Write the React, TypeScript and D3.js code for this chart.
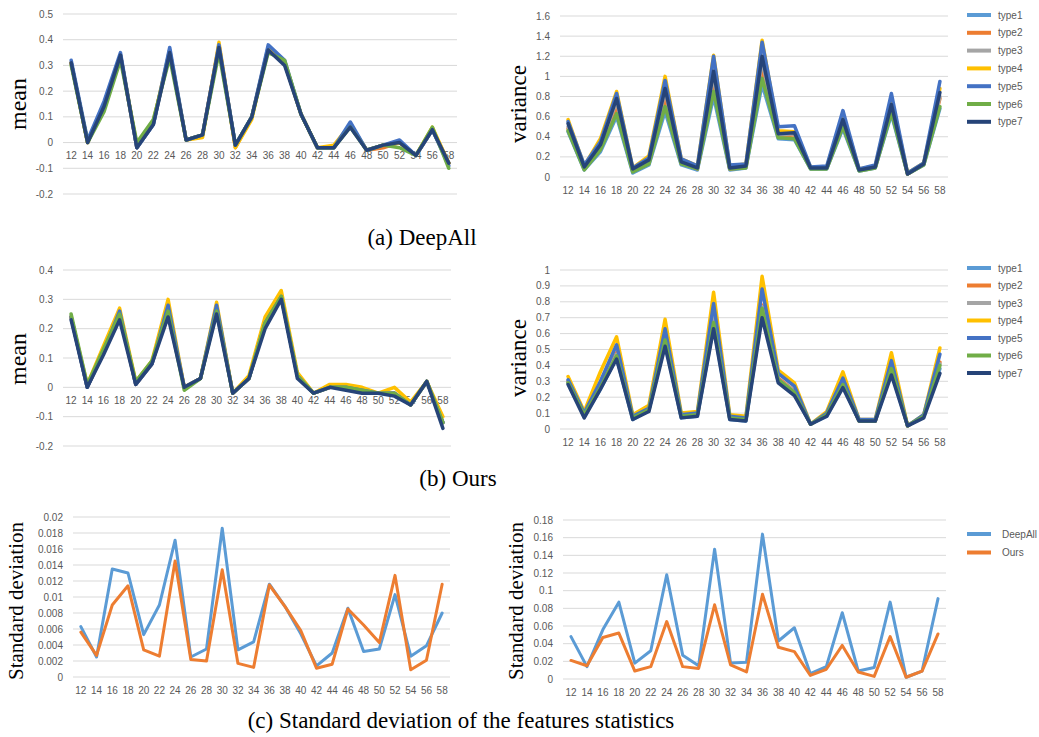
import React from 'react'
import * as d3 from 'd3'

// layer indices on the x axis
const layers = ['12', '14', '16', '18', '20', '22', '24', '26', '28', '30', '32', '34', '36', '38', '40', '42', '44', '46', '48', '50', '52', '54', '56', '58']

const typeNames = ['type1', 'type2', 'type3', 'type4', 'type5', 'type6', 'type7']
const typeColors = ['#5B9BD5', '#ED7D31', '#A5A5A5', '#FFC000', '#4472C4', '#70AD47', '#264478']

// (a) DeepAll - mean
const deepMean1 = [0.31, 0.00, 0.15, 0.34, -0.02, 0.07, 0.36, 0.01, 0.03, 0.37, -0.01, 0.10, 0.37, 0.31, 0.11, -0.02, -0.02, 0.07, -0.03, -0.01, 0.00, -0.05, 0.05, -0.08]
const deepMean2 = [0.31, 0.00, 0.14, 0.34, -0.02, 0.08, 0.35, 0.01, 0.03, 0.38, -0.02, 0.10, 0.37, 0.31, 0.11, -0.02, -0.02, 0.07, -0.03, -0.02, 0.00, -0.05, 0.05, -0.08]
const deepMean3 = [0.31, 0.00, 0.14, 0.34, -0.02, 0.07, 0.35, 0.01, 0.03, 0.37, -0.01, 0.10, 0.36, 0.31, 0.11, -0.02, -0.02, 0.07, -0.03, -0.01, 0.00, -0.05, 0.05, -0.08]
const deepMean4 = [0.31, 0.00, 0.14, 0.34, -0.01, 0.08, 0.36, 0.01, 0.02, 0.39, -0.02, 0.09, 0.37, 0.31, 0.11, -0.02, -0.01, 0.07, -0.03, -0.01, 0.00, -0.05, 0.06, -0.08]
const deepMean5 = [0.32, 0.01, 0.16, 0.35, -0.02, 0.07, 0.37, 0.01, 0.03, 0.38, -0.01, 0.10, 0.38, 0.32, 0.11, -0.02, -0.02, 0.08, -0.03, -0.01, 0.01, -0.05, 0.05, -0.09]
const deepMean6 = [0.30, 0.00, 0.12, 0.32, 0.00, 0.09, 0.33, 0.01, 0.03, 0.35, -0.01, 0.10, 0.35, 0.32, 0.11, -0.02, -0.02, 0.06, -0.03, -0.01, -0.02, -0.05, 0.06, -0.10]
const deepMean7 = [0.31, 0.00, 0.14, 0.34, -0.02, 0.07, 0.35, 0.01, 0.03, 0.37, -0.01, 0.10, 0.36, 0.30, 0.11, -0.02, -0.02, 0.06, -0.03, -0.01, 0.00, -0.05, 0.05, -0.08]

// (a) DeepAll - variance
const deepVar1 = [0.45, 0.07, 0.25, 0.60, 0.04, 0.12, 0.65, 0.12, 0.07, 0.80, 0.07, 0.09, 0.92, 0.38, 0.37, 0.08, 0.08, 0.48, 0.06, 0.09, 0.62, 0.03, 0.12, 0.68]
const deepVar2 = [0.48, 0.09, 0.28, 0.70, 0.06, 0.14, 0.78, 0.14, 0.08, 0.95, 0.08, 0.10, 1.08, 0.40, 0.42, 0.09, 0.09, 0.52, 0.07, 0.10, 0.68, 0.03, 0.13, 0.78]
const deepVar3 = [0.50, 0.10, 0.32, 0.75, 0.07, 0.16, 0.85, 0.15, 0.09, 1.00, 0.09, 0.11, 1.15, 0.42, 0.43, 0.09, 0.09, 0.55, 0.07, 0.10, 0.70, 0.03, 0.13, 0.80]
const deepVar4 = [0.57, 0.11, 0.38, 0.85, 0.09, 0.21, 1.00, 0.18, 0.11, 1.21, 0.11, 0.13, 1.36, 0.46, 0.45, 0.10, 0.10, 0.62, 0.08, 0.11, 0.78, 0.04, 0.14, 0.88]
const deepVar5 = [0.55, 0.12, 0.35, 0.83, 0.09, 0.19, 0.96, 0.18, 0.11, 1.20, 0.12, 0.13, 1.34, 0.50, 0.51, 0.10, 0.11, 0.66, 0.08, 0.12, 0.83, 0.04, 0.14, 0.95]
const deepVar6 = [0.46, 0.07, 0.27, 0.63, 0.05, 0.13, 0.70, 0.13, 0.08, 0.85, 0.08, 0.09, 0.98, 0.39, 0.38, 0.08, 0.08, 0.50, 0.06, 0.09, 0.64, 0.03, 0.12, 0.70]
const deepVar7 = [0.53, 0.10, 0.32, 0.78, 0.08, 0.17, 0.88, 0.15, 0.09, 1.05, 0.09, 0.11, 1.20, 0.43, 0.44, 0.09, 0.09, 0.57, 0.07, 0.10, 0.72, 0.03, 0.13, 0.84]

// (b) Ours - mean
const oursMean1 = [0.24, 0.00, 0.12, 0.25, 0.01, 0.08, 0.26, 0.00, 0.03, 0.27, -0.02, 0.03, 0.22, 0.31, 0.04, -0.02, 0.00, 0.00, -0.01, -0.02, -0.02, -0.06, 0.02, -0.12]
const oursMean2 = [0.24, 0.00, 0.12, 0.25, 0.01, 0.08, 0.27, 0.00, 0.03, 0.27, -0.02, 0.03, 0.22, 0.31, 0.04, -0.02, 0.00, 0.00, -0.01, -0.02, -0.02, -0.06, 0.02, -0.12]
const oursMean3 = [0.24, 0.00, 0.12, 0.25, 0.01, 0.08, 0.26, 0.00, 0.03, 0.27, -0.02, 0.03, 0.22, 0.31, 0.04, -0.02, 0.00, 0.00, -0.01, -0.02, -0.02, -0.06, 0.02, -0.12]
const oursMean4 = [0.24, 0.01, 0.14, 0.27, 0.02, 0.09, 0.30, 0.00, 0.03, 0.29, -0.02, 0.04, 0.24, 0.33, 0.05, -0.02, 0.01, 0.01, 0.00, -0.02, 0.00, -0.05, 0.02, -0.10]
const oursMean5 = [0.24, 0.00, 0.12, 0.26, 0.01, 0.08, 0.28, 0.00, 0.03, 0.28, -0.02, 0.03, 0.22, 0.31, 0.04, -0.02, 0.00, 0.00, -0.01, -0.02, -0.02, -0.06, 0.02, -0.12]
const oursMean6 = [0.25, 0.01, 0.13, 0.25, 0.02, 0.09, 0.26, -0.01, 0.03, 0.26, -0.02, 0.03, 0.22, 0.31, 0.04, -0.02, 0.00, 0.00, -0.01, -0.02, -0.02, -0.06, 0.02, -0.12]
const oursMean7 = [0.23, 0.00, 0.11, 0.23, 0.01, 0.08, 0.24, 0.00, 0.03, 0.25, -0.02, 0.03, 0.20, 0.30, 0.03, -0.02, 0.00, -0.01, -0.02, -0.02, -0.03, -0.06, 0.02, -0.14]

// (b) Ours - variance
const oursVar1 = [0.29, 0.08, 0.25, 0.45, 0.06, 0.12, 0.54, 0.07, 0.08, 0.65, 0.06, 0.05, 0.73, 0.30, 0.22, 0.03, 0.08, 0.27, 0.05, 0.05, 0.36, 0.02, 0.08, 0.38]
const oursVar2 = [0.30, 0.09, 0.27, 0.48, 0.07, 0.13, 0.58, 0.08, 0.09, 0.72, 0.07, 0.06, 0.78, 0.32, 0.24, 0.03, 0.09, 0.29, 0.05, 0.05, 0.40, 0.02, 0.08, 0.42]
const oursVar3 = [0.30, 0.09, 0.27, 0.47, 0.07, 0.12, 0.57, 0.08, 0.09, 0.70, 0.07, 0.06, 0.77, 0.31, 0.24, 0.03, 0.09, 0.29, 0.05, 0.05, 0.39, 0.02, 0.08, 0.41]
const oursVar4 = [0.33, 0.11, 0.36, 0.58, 0.09, 0.15, 0.69, 0.10, 0.11, 0.86, 0.09, 0.08, 0.96, 0.37, 0.29, 0.03, 0.11, 0.36, 0.06, 0.06, 0.48, 0.02, 0.09, 0.51]
const oursVar5 = [0.31, 0.10, 0.30, 0.53, 0.08, 0.13, 0.63, 0.09, 0.10, 0.79, 0.08, 0.07, 0.88, 0.35, 0.27, 0.03, 0.10, 0.32, 0.06, 0.06, 0.43, 0.02, 0.09, 0.47]
const oursVar6 = [0.29, 0.09, 0.26, 0.46, 0.07, 0.12, 0.56, 0.08, 0.09, 0.67, 0.07, 0.06, 0.76, 0.31, 0.23, 0.03, 0.09, 0.28, 0.05, 0.05, 0.38, 0.02, 0.08, 0.40]
const oursVar7 = [0.28, 0.07, 0.25, 0.44, 0.06, 0.11, 0.52, 0.07, 0.08, 0.63, 0.06, 0.05, 0.70, 0.29, 0.21, 0.03, 0.08, 0.26, 0.05, 0.05, 0.34, 0.02, 0.07, 0.35]

// (c) standard deviation of the statistics
const stdMeanDeepAll = [0.0063, 0.0025, 0.0135, 0.013, 0.0053, 0.009, 0.0171, 0.0025, 0.0035, 0.0186, 0.0034, 0.0044, 0.0116, 0.0088, 0.0054, 0.0014, 0.003, 0.0086, 0.0032, 0.0035, 0.0103, 0.0026, 0.0039, 0.008]
const stdMeanOurs = [0.0056, 0.0027, 0.009, 0.0114, 0.0034, 0.0026, 0.0145, 0.0022, 0.002, 0.0134, 0.0017, 0.0012, 0.0115, 0.0088, 0.0058, 0.0011, 0.0016, 0.0085, 0.0065, 0.0043, 0.0127, 0.0009, 0.0021, 0.0116]
const stdVarDeepAll = [0.048, 0.014, 0.056, 0.087, 0.018, 0.032, 0.118, 0.027, 0.015, 0.147, 0.018, 0.019, 0.164, 0.043, 0.058, 0.006, 0.014, 0.075, 0.009, 0.013, 0.087, 0.002, 0.009, 0.091]
const stdVarOurs = [0.021, 0.015, 0.047, 0.052, 0.009, 0.014, 0.065, 0.014, 0.012, 0.084, 0.016, 0.008, 0.096, 0.036, 0.031, 0.004, 0.011, 0.038, 0.008, 0.003, 0.048, 0.002, 0.009, 0.051]

const stdNames = ['DeepAll', 'Ours']
const stdColors = ['#5B9BD5', '#ED7D31']

// y tick values
const meanTicksA = [-0.2, -0.1, 0, 0.1, 0.2, 0.3, 0.4, 0.5]
const varTicksA = [0, 0.2, 0.4, 0.6, 0.8, 1, 1.2, 1.4, 1.6]
const meanTicksB = [-0.2, -0.1, 0, 0.1, 0.2, 0.3, 0.4]
const varTicksB = [0, 0.1, 0.2, 0.3, 0.4, 0.5, 0.6, 0.7, 0.8, 0.9, 1]
const stdTicksMean = [0, 0.002, 0.004, 0.006, 0.008, 0.01, 0.012, 0.014, 0.016, 0.018, 0.02]
const stdTicksVar = [0, 0.02, 0.04, 0.06, 0.08, 0.1, 0.12, 0.14, 0.16, 0.18]

const tickFont = '"Liberation Sans", Arial, sans-serif'
const serif = '"Liberation Serif", "Times New Roman", serif'

type Series = { name: string, color: string, values: number[] }

type PanelProps = {
  x0: number, x1: number,
  yTop: number, yBottom: number,
  ticks: number[], digits: number,
  series: Series[],
  lineWidth: number,
  ylabel: string, ylabelX: number, ylabelY: number, ylabelSize: number,
  legend?: { x: number, y: number, gap: number, textX: number }
}

function LinePanel(p: PanelProps) {
  const x = d3.scalePoint<string>().domain(layers).range([p.x0, p.x1]).padding(0.5)
  const y = d3.scaleLinear()
    .domain([d3.min(p.ticks)!, d3.max(p.ticks)!])
    .range([p.yBottom, p.yTop])
  const line = d3.line<number>()
    .x((_, i) => x(layers[i])!)
    .y(d => y(d))
  const fmt = (v: number) => String(+v.toFixed(p.digits))

  return (
    <g>
      {p.ticks.map(t => (
        <g key={t}>
          <line x1={p.x0} x2={p.x1} y1={y(t)} y2={y(t)} stroke="#d9d9d9" strokeWidth={1} />
          <text x={p.x0 - 10} y={y(t)} textAnchor="end" dominantBaseline="central"
            fontFamily={tickFont} fontSize={10} fill="#595959">{fmt(t)}</text>
        </g>
      ))}
      {layers.map(l => (
        <text key={l} x={x(l)} y={y(0) + 13} textAnchor="middle" dominantBaseline="central"
          fontFamily={tickFont} fontSize={10} fill="#595959">{l}</text>
      ))}
      {p.series.map(s => (
        <path key={s.name} d={line(s.values)!} fill="none" stroke={s.color}
          strokeWidth={p.lineWidth} strokeLinejoin="round" strokeLinecap="round" />
      ))}
      <text transform={`translate(${p.ylabelX},${p.ylabelY}) rotate(-90)`} textAnchor="middle"
        dominantBaseline="central" fontFamily={serif} fontSize={p.ylabelSize} fill="#000">{p.ylabel}</text>
      {p.legend && p.series.map((s, i) => (
        <g key={s.name} transform={`translate(0,${p.legend!.y + i * p.legend!.gap})`}>
          <line x1={p.legend!.x} x2={p.legend!.x + 24} y1={0} y2={0} stroke={s.color} strokeWidth={4} />
          <text x={p.legend!.textX} y={0} dominantBaseline="central" fontFamily={tickFont}
            fontSize={10} fill="#595959">{s.name}</text>
        </g>
      ))}
    </g>
  )
}

const toSeries = (arrs: number[][], names: string[], colors: string[]): Series[] =>
  arrs.map((values, i) => ({ name: names[i], color: colors[i], values }))

export default function App() {
  const deepMean = toSeries([deepMean1, deepMean2, deepMean3, deepMean4, deepMean5, deepMean6, deepMean7], typeNames, typeColors)
  const deepVar = toSeries([deepVar1, deepVar2, deepVar3, deepVar4, deepVar5, deepVar6, deepVar7], typeNames, typeColors)
  const oursMean = toSeries([oursMean1, oursMean2, oursMean3, oursMean4, oursMean5, oursMean6, oursMean7], typeNames, typeColors)
  const oursVar = toSeries([oursVar1, oursVar2, oursVar3, oursVar4, oursVar5, oursVar6, oursVar7], typeNames, typeColors)
  const stdMean = toSeries([stdMeanDeepAll, stdMeanOurs], stdNames, stdColors)
  const stdVar = toSeries([stdVarDeepAll, stdVarOurs], stdNames, stdColors)

  return (
    <svg width={1039} height={737} style={{ position: 'absolute', left: 0, top: 0, background: '#fff' }}>
      <rect width={1039} height={737} fill="#fff" />

      <LinePanel x0={63} x1={457} yTop={14} yBottom={194} ticks={meanTicksA} digits={1}
        series={deepMean} lineWidth={3.5} ylabel="mean" ylabelX={18} ylabelY={104} ylabelSize={24} />
      <LinePanel x0={560} x1={948} yTop={16} yBottom={177} ticks={varTicksA} digits={1}
        series={deepVar} lineWidth={3.5} ylabel="variance" ylabelX={518} ylabelY={104} ylabelSize={23}
        legend={{ x: 967, y: 15, gap: 17.8, textX: 998 }} />

      <LinePanel x0={63} x1={451} yTop={270} yBottom={446} ticks={meanTicksB} digits={1}
        series={oursMean} lineWidth={3.5} ylabel="mean" ylabelX={18} ylabelY={359} ylabelSize={24} />
      <LinePanel x0={560} x1={948} yTop={270} yBottom={429} ticks={varTicksB} digits={1}
        series={oursVar} lineWidth={3.5} ylabel="variance" ylabelX={518} ylabelY={358} ylabelSize={23}
        legend={{ x: 967, y: 268, gap: 17.5, textX: 998 }} />

      <LinePanel x0={73} x1={450} yTop={517} yBottom={677} ticks={stdTicksMean} digits={3}
        series={stdMean} lineWidth={3} ylabel="Standard deviation" ylabelX={16} ylabelY={601} ylabelSize={21} />
      <LinePanel x0={563} x1={946} yTop={520} yBottom={679} ticks={stdTicksVar} digits={2}
        series={stdVar} lineWidth={3} ylabel="Standard deviation" ylabelX={516} ylabelY={601} ylabelSize={21}
        legend={{ x: 967, y: 534, gap: 18.5, textX: 1002 }} />

      <text x={422} y={237} textAnchor="middle" dominantBaseline="central" fontFamily={serif} fontSize={23}>(a) DeepAll</text>
      <text x={458} y={478} textAnchor="middle" dominantBaseline="central" fontFamily={serif} fontSize={23}>(b) Ours</text>
      <text x={461} y={720} textAnchor="middle" dominantBaseline="central" fontFamily={serif} fontSize={23}>(c) Standard deviation of the features statistics</text>
    </svg>
  )
}
